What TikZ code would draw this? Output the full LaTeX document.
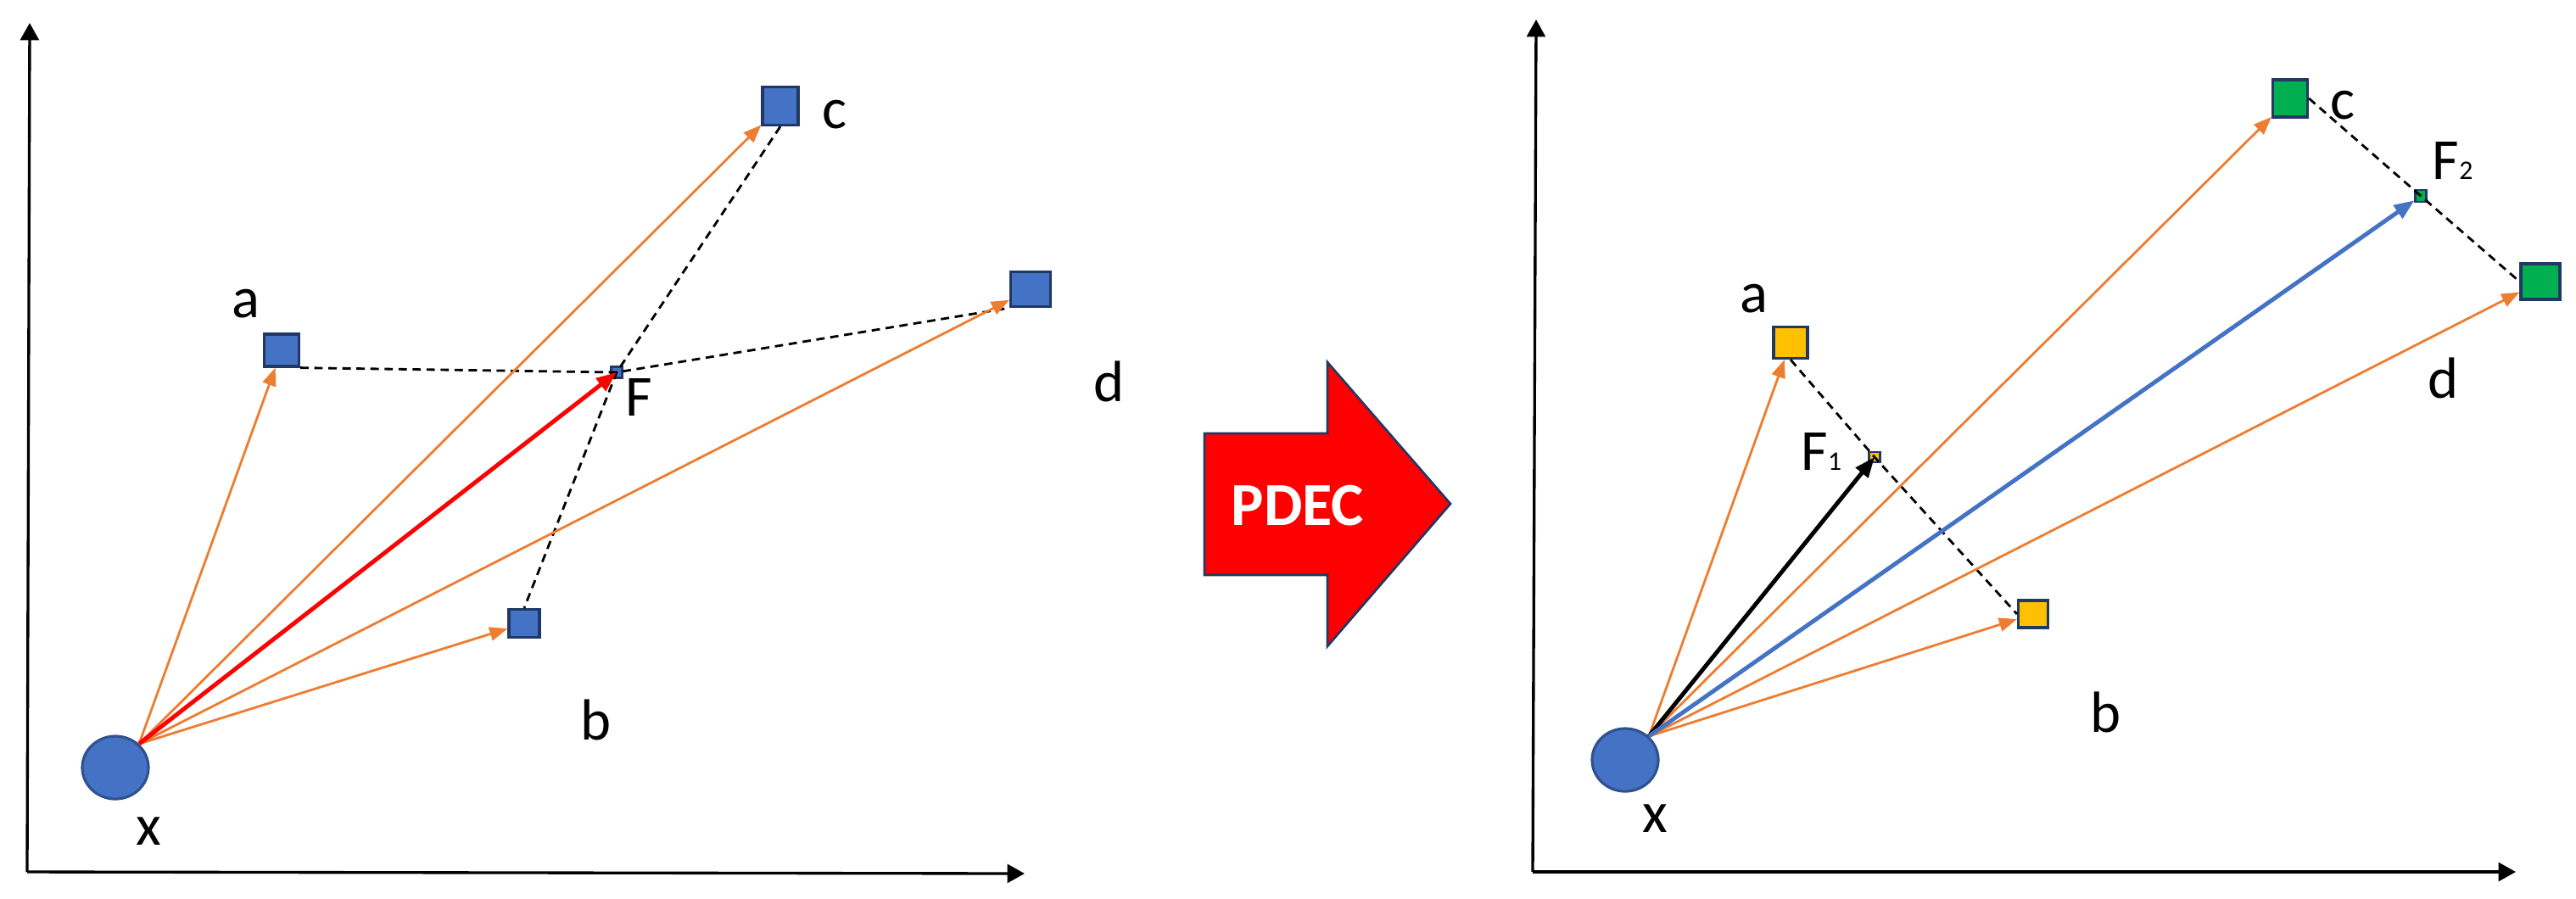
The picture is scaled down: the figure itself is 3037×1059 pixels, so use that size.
\documentclass[tikz,border=0pt]{standalone}
\usepackage{fontspec}
\setmainfont{Carlito}
\usetikzlibrary{arrows.meta,shapes.geometric}
\definecolor{obl}{HTML}{4472C4}
\definecolor{oblb}{HTML}{2F528F}
\definecolor{oor}{HTML}{ED7D31}
\definecolor{ony}{HTML}{203864}
\definecolor{oye}{HTML}{FFC000}
\definecolor{ogr}{HTML}{00B050}
\begin{document}
\begin{tikzpicture}[x=0.01cm,y=-0.01cm,
  sq/.style={draw=ony,line width=0.9pt,inner sep=0pt,fill=#1},
  sqs/.style={draw=ony,line width=0.6pt,inner sep=0pt,fill=#1,minimum width=0.13cm,minimum height=0.13cm},
  xball/.style={ellipse,draw=oblb,line width=0.9pt,fill=obl,inner sep=0pt,minimum width=0.78cm,minimum height=0.74cm},
  lbl/.style={inner sep=0pt,font=\fontsize{19.5}{20}\selectfont},
  axisln/.style={line width=0.95pt,-{Triangle[length=5.8pt,width=6.2pt]}},
  oarr/.style={oor,line width=0.8pt,-{Triangle[length=6pt,width=4.6pt]}},
  bigarr/.style={line width=1.4pt,-{Triangle[length=6.8pt,width=5.2pt]}},
  dsh/.style={line width=0.8pt,dash pattern=on 2.8pt off 1.9pt},
]
\useasboundingbox (0,0) rectangle (3037,1059);

% ---------- axes ----------
\coordinate (o1) at (32,1028);
\coordinate (y1) at (35,27);
\coordinate (x1) at (1208,1030);
\coordinate (o2) at (1807,1028);
\coordinate (y2) at (1811,23);
\coordinate (x2) at (2966,1028);
\draw[axisln] (o1) -- (y1);
\draw[axisln] (o1) -- (x1);
\draw[axisln] (o2) -- (y2);
\draw[axisln] (o2) -- (x2);

% ---------- left panel ----------
\node[xball] (X1) at (136,905) {};
\node[sq=obl,minimum width=0.41cm,minimum height=0.38cm] (a1) at (332,413) {};
\node[sq=obl,minimum width=0.36cm,minimum height=0.33cm] (b1) at (618,735) {};
\node[sq=obl,minimum width=0.42cm,minimum height=0.45cm] (c1) at (920,125) {};
\node[sq=obl,minimum width=0.47cm,minimum height=0.41cm] (d1) at (1215,341) {};
\node[sqs=obl] (F) at (727,439) {};

\coordinate (s1) at (X1.45);
\draw[dsh] (a1.south east) -- (F.center) -- (d1.south west);
\draw[dsh] (c1.south) -- (F.center) -- (b1.north);
\draw[oarr] (s1) -- (a1);
\draw[oarr] (s1) -- (c1);
\draw[oarr] (s1) -- (d1);
\draw[oarr] (s1) -- (b1);
\draw[bigarr,red] (s1) -- (F.center);

\node[lbl] (la1) at (290,358) {a};
\node[lbl] (lb1) at (703,849) {b};
\node[lbl] (lc1) at (984,135) {c};
\node[lbl] (ld1) at (1307,450) {d};
\node[lbl] (lF) at (753,468) {F};
\node[lbl] (lx1) at (175,980) {x};

% ---------- PDEC arrow ----------
\draw[fill=red,draw=ony,line width=0.75pt] (1420,511) -- (1565,511) -- (1565,427) -- (1710,594)
  -- (1565,762) -- (1565,678) -- (1420,678) -- cycle;
\node[inner sep=0pt,text=white,font=\bfseries\fontsize{20.5}{21}\selectfont] (pdec) at (1530,596) {PDEC};

% ---------- right panel ----------
\node[xball] (X2) at (1916,896) {};
\node[sq=oye,minimum width=0.40cm,minimum height=0.37cm] (a2) at (2111,404) {};
\node[sq=oye,minimum width=0.35cm,minimum height=0.32cm] (b2) at (2397,724) {};
\node[sq=ogr,minimum width=0.41cm,minimum height=0.44cm] (c2) at (2700,116) {};
\node[sq=ogr,minimum width=0.46cm,minimum height=0.42cm] (d2) at (2995,332) {};
\node[sqs=oye,minimum height=0.12cm] (F1) at (2210,539) {};
\node[sqs=ogr,minimum height=0.14cm] (F2) at (2854,231) {};

\coordinate (s2) at (X2.45);
\draw[dsh] (a2.south) -- (F1.center) -- (b2.west);
\draw[dsh] (c2.east) -- (F2.center) -- (d2.west);
\draw[oarr] (s2) -- (a2);
\draw[oarr] (s2) -- (c2);
\draw[oarr] (s2) -- (d2);
\draw[oarr] (s2) -- (b2);
\draw[bigarr,black] (s2) -- (F1.center);
\draw[bigarr,obl] (s2) -- (F2);

\node[lbl] (la2) at (2068,352) {a};
\node[lbl] (lb2) at (2482,840) {b};
\node[lbl] (lc2) at (2762,124) {c};
\node[lbl] (ld2) at (2880,446) {d};
\node[lbl,anchor=base west] (lF1) at (2123,554) {F{\fontsize{9}{9}\selectfont 1}};
\node[lbl,anchor=base west] (lF2) at (2867,211) {F{\fontsize{9}{9}\selectfont 2}};
\node[lbl] (lx2) at (1951,965) {x};
\end{tikzpicture}
\end{document}
